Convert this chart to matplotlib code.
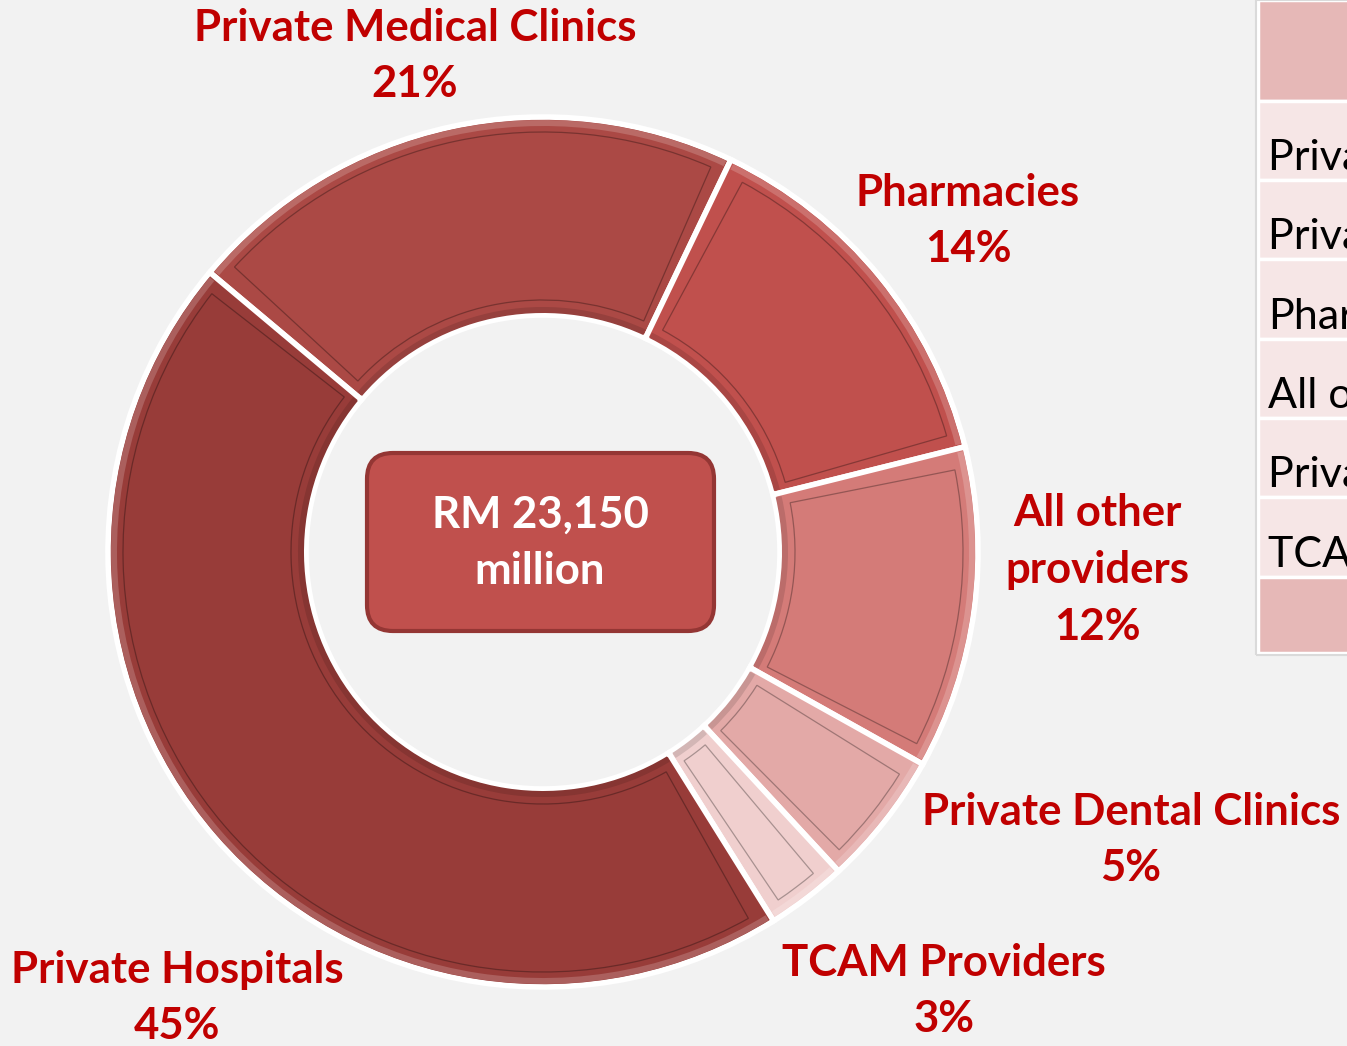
import numpy as np
import matplotlib.pyplot as plt
from matplotlib.patches import Wedge, FancyBboxPatch, Rectangle
from matplotlib.colors import to_rgb

W, H = 1347, 1046

# slices in drawing order (clockwise from the upper left)
providers = ["Private Medical Clinics", "Pharmacies", "All other\nproviders",
             "Private Dental Clinics", "TCAM Providers", "Private Hospitals"]
shares = [21, 14, 12, 5, 3, 45]
slice_colors = ["#AB4945", "#C0504D", "#D47B78", "#E3A9A7", "#F0CFCE", "#983C39"]
total_label = "RM 23,150\nmillion"

# data table beside the chart (sorted by share)
table_rows = ["Private Hospitals", "Private Medical Clinics", "Pharmacies",
              "All other providers", "Private Dental Clinics", "TCAM Providers"]

label_pos = {  # label centres, pixel coords from the top
    "Private Medical Clinics": (415, 56),
    "Pharmacies": (968, 221),
    "All other\nproviders": (1097, 570),
    "Private Dental Clinics": (1131, 840),
    "TCAM Providers": (944, 991),
    "Private Hospitals": (177, 998),
}

FONT = "Lato"
RED = "#C00000"
BG = "#F2F2F2"


def shade(c, f):
    r, g, b = to_rgb(c)
    if f >= 0:
        return (r + (1 - r) * f, g + (1 - g) * f, b + (1 - b) * f)
    return (r * (1 + f), g * (1 + f), b * (1 + f))


fig = plt.figure(figsize=(W / 100, H / 100), dpi=100, facecolor=BG)
ax = fig.add_axes([0, 0, 1, 1])
ax.set_facecolor(BG)

cx, cy = 543, H - 552
R, ring = 435, 198

wedges, _ = ax.pie(shares, colors=slice_colors, startangle=140,
                   counterclock=False, radius=R, center=(cx, cy),
                   wedgeprops=dict(width=ring, edgecolor="white", linewidth=4),
                   frame=True)

# bevel look: light outer rim, darker inner rim, inset outline
bevel = 15
for w, col in zip(wedges, slice_colors):
    t1, t2 = w.theta1, w.theta2
    d_out = np.degrees(bevel / (R - bevel))
    d_in = np.degrees(bevel / (R - ring + bevel))
    ax.add_patch(Wedge((cx, cy), R - 3, t1 + 0.5, t2 - 0.5, width=6,
                       facecolor=shade(col, 0.18), edgecolor="none"))
    ax.add_patch(Wedge((cx, cy), R - ring + 8, t1 + 0.8, t2 - 0.8, width=6,
                       facecolor=shade(col, -0.12), edgecolor="none"))
    ax.add_patch(Wedge((cx, cy), R - bevel, t1 + d_out, t2 - (d_out + d_in) / 2,
                       width=ring - 2 * bevel, facecolor=col,
                       edgecolor=shade(col, -0.3), linewidth=0.9))

for name, pct in zip(providers, shares):
    x, y = label_pos[name]
    ax.text(x, H - y, f"{name}\n{pct}%", ha="center", va="center",
            fontsize=31.5, fontweight="bold", color=RED, family=FONT,
            linespacing=1.5)

# total in the hole
box = FancyBboxPatch((367, H - 631), 347, 178,
                     boxstyle="round,pad=0,rounding_size=26",
                     facecolor="#C0504D", edgecolor="#943634", linewidth=3)
ax.add_patch(box)
ax.text(540, H - 543, total_label, ha="center", va="center", color="white",
        fontsize=31.5, fontweight="bold", family=FONT, linespacing=1.5)

# table strip at the right edge
tx = 1258
edges = [0, 101, 180, 259, 339, 418, 497, 577, 653]
for i in range(len(edges) - 1):
    top, bot = edges[i], edges[i + 1]
    head = i == 0 or i == len(edges) - 2
    ax.add_patch(Rectangle((tx, H - bot), 200, bot - top,
                           facecolor="#E6B8B7" if head else "#F6E6E6",
                           edgecolor="white", linewidth=2.5))
ax.add_patch(Rectangle((tx - 2, H - 655), 200, 655, facecolor="none",
                       edgecolor="#DADADA", linewidth=1.5))
for i, name in enumerate(table_rows):
    bot = edges[i + 2]
    ax.text(tx + 10, H - bot + 10, name, ha="left", va="baseline",
            fontsize=31, color="black", family=FONT)

ax.set_xlim(0, W)
ax.set_ylim(0, H)
ax.set_aspect("equal")
ax.set_axis_off()

fig.savefig("out.png", dpi=100, facecolor=BG)
